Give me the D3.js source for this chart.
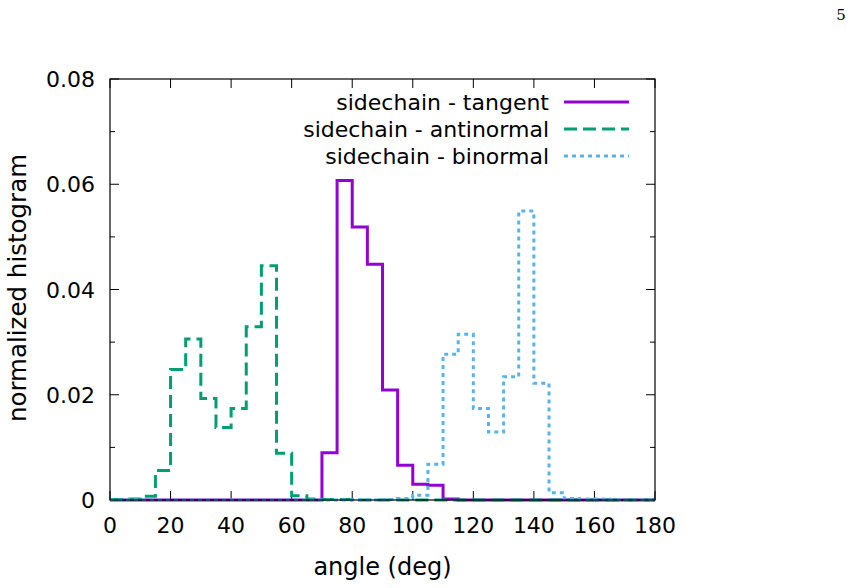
<!DOCTYPE html>
<html>
<head>
<meta charset="utf-8">
<script src="https://cdn.jsdelivr.net/npm/d3@7"></script>
<style>
  body { margin: 0; background: #fff; }
  svg { display: block; font-family: "DejaVu Sans", sans-serif; }
</style>
</head>
<body>
<svg width="853" height="588"></svg>
<script>
// bin left edges (deg), 5 degree bins
const binEdges = [0, 5, 10, 15, 20, 25, 30, 35, 40, 45, 50, 55, 60, 65, 70, 75, 80, 85,
                  90, 95, 100, 105, 110, 115, 120, 125, 130, 135, 140, 145, 150, 155, 160, 165, 170, 175];

const tangent = [0, 0, 0, 0, 0, 0, 0, 0, 0, 0, 0, 0, 0, 0, 0.0090, 0.0607, 0.0519, 0.0448,
                 0.0209, 0.0066, 0.0030, 0.0028, 0.0002, 0, 0, 0, 0, 0, 0, 0, 0, 0, 0, 0, 0, 0];

const antinormal = [0.0001, 0.0002, 0.0007, 0.0056, 0.0248, 0.0306, 0.0193, 0.0138, 0.0174, 0.0329,
                    0.0445, 0.0089, 0.0008, 0.0002, 0.0001, 0.0001, 0, 0, 0, 0, 0, 0, 0, 0,
                    0, 0, 0, 0, 0, 0, 0, 0, 0, 0, 0, 0];

const binormal = [0, 0, 0, 0, 0, 0, 0, 0, 0, 0, 0, 0, 0, 0, 0, 0, 0, 0, 0.0001, 0.0003,
                  0.0009, 0.0068, 0.0277, 0.0315, 0.0174, 0.0129, 0.0234, 0.0549, 0.0222, 0.0014,
                  0.0003, 0.0002, 0.0002, 0.0001, 0, 0];

const xTicks = [0, 20, 40, 60, 80, 100, 120, 140, 160, 180];
const yTicks = [0, 0.02, 0.04, 0.06, 0.08];
const yMinorTicks = [0.01, 0.03, 0.05, 0.07];

const seriesNames = ["sidechain - tangent", "sidechain - antinormal", "sidechain - binormal"];

var svg = d3.select("svg");
var pLeft = 110, pRight = 655, pTop = 79, pBottom = 500;

var x = d3.scaleLinear().domain([0, 180]).range([pLeft, pRight]);
var y = d3.scaleLinear().domain([0, 0.08]).range([pBottom, pTop]);

// page number
svg.append("text")
    .attr("x", 841).attr("y", 20)
    .attr("text-anchor", "middle")
    .style("font-family", "'DejaVu Serif', 'Liberation Serif', serif")
    .style("font-size", "15px")
    .text("5");

// ticks (inward, mirrored)
var ticks = svg.append("g").attr("stroke", "#000").attr("stroke-width", 1);
xTicks.forEach(function (t) {
    ticks.append("line").attr("x1", x(t)).attr("x2", x(t)).attr("y1", pBottom).attr("y2", pBottom - 9);
    ticks.append("line").attr("x1", x(t)).attr("x2", x(t)).attr("y1", pTop).attr("y2", pTop + 9);
});
yTicks.forEach(function (t) {
    ticks.append("line").attr("x1", pLeft).attr("x2", pLeft + 9).attr("y1", y(t)).attr("y2", y(t));
    ticks.append("line").attr("x1", pRight).attr("x2", pRight - 9).attr("y1", y(t)).attr("y2", y(t));
});
yMinorTicks.forEach(function (t) {
    ticks.append("line").attr("x1", pLeft).attr("x2", pLeft + 5).attr("y1", y(t)).attr("y2", y(t));
    ticks.append("line").attr("x1", pRight).attr("x2", pRight - 5).attr("y1", y(t)).attr("y2", y(t));
});

// tick labels
svg.append("g").selectAll("text")
    .data(xTicks).enter().append("text")
    .attr("x", function (d) { return x(d); })
    .attr("y", 533)
    .attr("text-anchor", "middle")
    .style("font-size", "22px")
    .text(function (d) { return d; });

svg.append("g").selectAll("text")
    .data(yTicks).enter().append("text")
    .attr("x", 95)
    .attr("y", function (d) { return y(d) + 8; })
    .attr("text-anchor", "end")
    .style("font-size", "22px")
    .text(function (d) { return d === 0 ? "0" : d.toFixed(2); });

// axis titles
svg.append("text")
    .attr("x", x(90)).attr("y", 575)
    .attr("text-anchor", "middle")
    .style("font-size", "24px")
    .text("angle (deg)");

svg.append("text")
    .attr("transform", "translate(26,288) rotate(-90)")
    .attr("text-anchor", "middle")
    .style("font-size", "24.5px")
    .text("normalized histogram");

// step lines
var line = d3.line()
    .x(function (d) { return x(d[0]); })
    .y(function (d) { return y(d[1]); })
    .curve(d3.curveStepAfter);

function stepData(vals) {
    var pts = binEdges.map(function (e, i) { return [e, vals[i]]; });
    pts.push([180, vals[vals.length - 1]]);
    return pts;
}

var styles = [
    { data: tangent, color: "#9400d3", dash: null },
    { data: antinormal, color: "#009e73", dash: "13,6" },
    { data: binormal, color: "#56b4e9", dash: "4,4" }
];

var plot = svg.append("g");
styles.forEach(function (s) {
    plot.append("path")
        .attr("d", line(stepData(s.data)))
        .attr("fill", "none")
        .attr("stroke", s.color)
        .attr("stroke-width", 3)
        .attr("stroke-dasharray", s.dash);
});

// border
svg.append("rect")
    .attr("x", pLeft).attr("y", pTop)
    .attr("width", pRight - pLeft).attr("height", pBottom - pTop)
    .attr("fill", "none").attr("stroke", "#000").attr("stroke-width", 1.2);

// legend
var legend = svg.append("g");
styles.forEach(function (s, i) {
    var ly = 102 + i * 27;
    legend.append("text")
        .attr("x", 549).attr("y", ly + 8)
        .attr("text-anchor", "end")
        .style("font-size", "22px")
        .text(seriesNames[i]);
    legend.append("line")
        .attr("x1", 564).attr("x2", 629)
        .attr("y1", ly).attr("y2", ly)
        .attr("stroke", s.color)
        .attr("stroke-width", 3)
        .attr("stroke-dasharray", s.dash);
});
</script>
</body>
</html>
